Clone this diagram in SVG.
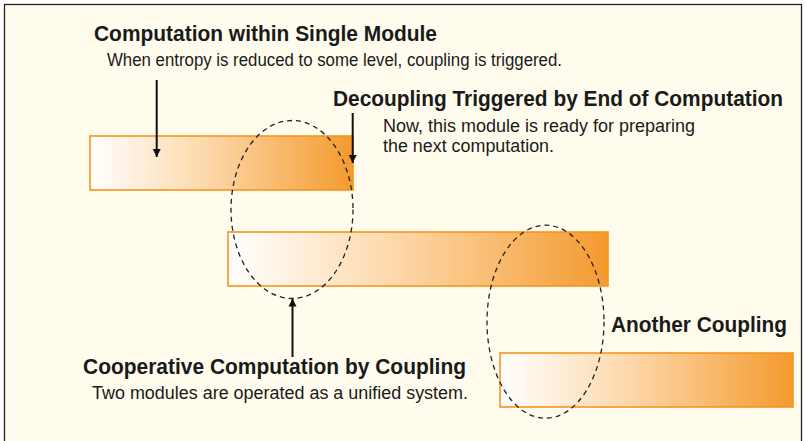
<svg xmlns="http://www.w3.org/2000/svg" width="807" height="441" viewBox="0 0 807 441">
<style>
.t{font-family:"Liberation Sans",Arial,sans-serif;fill:#1a1a1a}
.h{font-size:21.5px;font-weight:bold}
.s{font-size:17.5px}
.bar{fill:url(#g);stroke:#f7941d;stroke-width:1.6}
.ell{fill:none;stroke:#222;stroke-width:1.3;stroke-dasharray:5 4}
.arr{stroke:#111;stroke-width:2;fill:none;marker-end:url(#ah)}
</style>
<defs>
<linearGradient id="g" x1="0" y1="0" x2="1" y2="0">
<stop offset="0" stop-color="#ffffff"/>
<stop offset="0.06" stop-color="#fffaf4"/>
<stop offset="0.45" stop-color="#fdd7a8"/>
<stop offset="1" stop-color="#f49a2e"/>
</linearGradient>
<marker id="ah" viewBox="0 0 10 10" refX="10" refY="5" markerWidth="4" markerHeight="6" orient="auto" markerUnits="strokeWidth">
<path d="M0,0 L10,5 L0,10 z" fill="#111"/>
</marker>
</defs>
<rect x="0" y="0" width="807" height="441" fill="#ffffff"/>
<rect x="4.5" y="4.5" width="797" height="445" fill="#fffcee" stroke="#222" stroke-width="1.3"/>
<g id="bar1"><rect class="bar" x="90" y="136" width="263" height="54"/></g>
<g id="bar2"><rect class="bar" x="228" y="232" width="380" height="54"/></g>
<g id="bar3"><rect class="bar" x="500" y="353" width="293" height="54"/></g>
<g id="coupling1"><ellipse class="ell" cx="292" cy="209.5" rx="61" ry="89"/></g>
<g id="coupling2"><ellipse class="ell" cx="545.5" cy="321.7" rx="58.5" ry="96.5"/></g>
<g id="label-single">
<text class="t h" x="94" y="41" textLength="343" lengthAdjust="spacingAndGlyphs">Computation within Single Module</text>
<text class="t s" x="107" y="66" textLength="455" lengthAdjust="spacingAndGlyphs">When entropy is reduced to some level, coupling is triggered.</text>
</g>
<g id="label-decoupling">
<text class="t h" x="333" y="106" textLength="450" lengthAdjust="spacingAndGlyphs">Decoupling Triggered by End of Computation</text>
<text class="t s" x="383" y="131.5" textLength="312" lengthAdjust="spacingAndGlyphs">Now, this module is ready for preparing</text>
<text class="t s" x="383" y="151.5" textLength="171" lengthAdjust="spacingAndGlyphs">the next computation.</text>
</g>
<g id="label-cooperative">
<text class="t h" x="83" y="373.5" textLength="383" lengthAdjust="spacingAndGlyphs">Cooperative Computation by Coupling</text>
<text class="t s" x="92" y="399" textLength="376" lengthAdjust="spacingAndGlyphs">Two modules are operated as a unified system.</text>
</g>
<g id="label-another">
<text class="t h" x="611" y="331.5" textLength="176" lengthAdjust="spacingAndGlyphs">Another Coupling</text>
</g>
<g id="connectors">
<line class="arr" x1="156.7" y1="80" x2="156.7" y2="157"/>
<line class="arr" x1="352.7" y1="113" x2="352.7" y2="163"/>
<line class="arr" x1="292.5" y1="357" x2="292.5" y2="298.5"/>
</g>
</svg>
